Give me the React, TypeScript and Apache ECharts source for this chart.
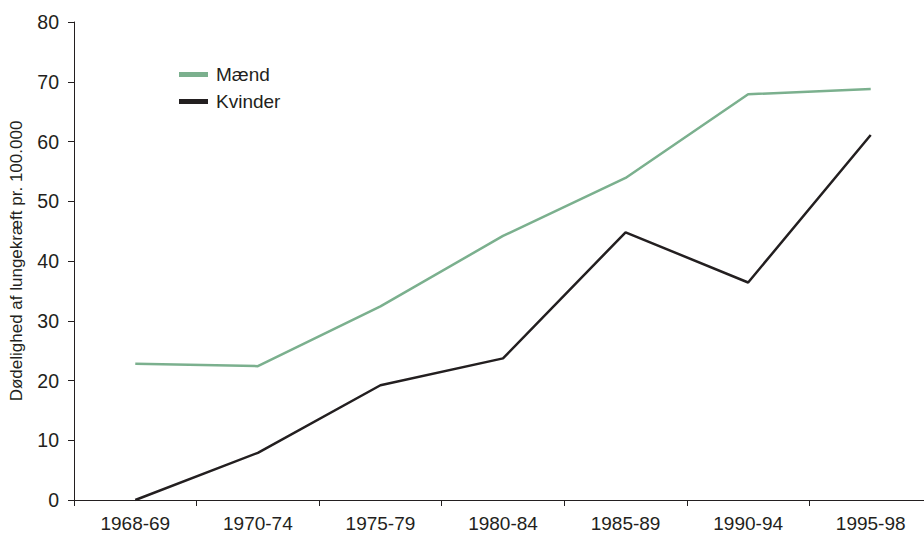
import React, { useEffect, useRef } from "react";
import * as echarts from "echarts";

const categories = ["1968-69", "1970-74", "1975-79", "1980-84", "1985-89", "1990-94", "1995-98"];
const maend = [22.8, 22.4, 32.4, 44.2, 53.9, 67.9, 68.8];
const kvinder = [0, 7.9, 19.2, 23.7, 44.8, 36.4, 61.1];
const yTicks = { min: 0, max: 80, interval: 10 };

export default function App() {
  const ref = useRef<HTMLDivElement>(null);
  useEffect(() => {
    if (!ref.current) return;
    const chart = echarts.init(ref.current, null, { renderer: "svg" });
    const font = "Liberation Sans, Arial, sans-serif";
    chart.setOption({
      animation: false,
      backgroundColor: "#ffffff",
      textStyle: { fontFamily: font },
      grid: {
        left: 74,
        top: 22,
        width: 858,
        height: 478,
        containLabel: false,
        outerBoundsMode: "none",
      },
      legend: {
        orient: "vertical",
        left: 174,
        top: 60,
        icon: "rect",
        itemWidth: 29,
        itemHeight: 5,
        itemGap: 8,
        textStyle: { fontFamily: font, fontSize: 19, color: "#231f20", padding: [0, 0, 0, 3] },
        data: ["Mænd", "Kvinder"],
      },
      xAxis: {
        type: "category",
        data: categories,
        boundaryGap: true,
        axisLine: { lineStyle: { color: "#231f20", width: 1 } },
        axisTick: { show: true, length: 6, lineStyle: { color: "#231f20" }, alignWithLabel: false },
        axisLabel: { fontFamily: font, fontSize: 19, color: "#231f20", margin: 14 },
        splitLine: { show: false },
      },
      yAxis: {
        type: "value",
        min: yTicks.min,
        max: yTicks.max,
        interval: yTicks.interval,
        name: "Dødelighed af lungekræft pr. 100.000",
        nameLocation: "middle",
        nameGap: 49,
        nameRotate: 90,
        nameTextStyle: { fontFamily: font, fontSize: 17, color: "#231f20" },
        axisLine: { show: true, lineStyle: { color: "#231f20", width: 1 } },
        axisTick: { show: true, length: 6, lineStyle: { color: "#231f20" } },
        axisLabel: { fontFamily: font, fontSize: 19.5, color: "#231f20", margin: 15 },
        splitLine: { show: false },
      },
      series: [
        {
          name: "Mænd",
          type: "line",
          data: maend,
          symbol: "none",
          itemStyle: { color: "#7bb08e" },
          lineStyle: { color: "#7bb08e", width: 2.5 },
        },
        {
          name: "Kvinder",
          type: "line",
          data: kvinder,
          symbol: "none",
          itemStyle: { color: "#231f20" },
          lineStyle: { color: "#231f20", width: 2.5 },
        },
      ],
    });
    return () => chart.dispose();
  }, []);
  return (
    <div
      ref={ref}
      style={{ position: "fixed", left: 0, top: 0, width: 924, height: 536, background: "#fff" }}
    />
  );
}
